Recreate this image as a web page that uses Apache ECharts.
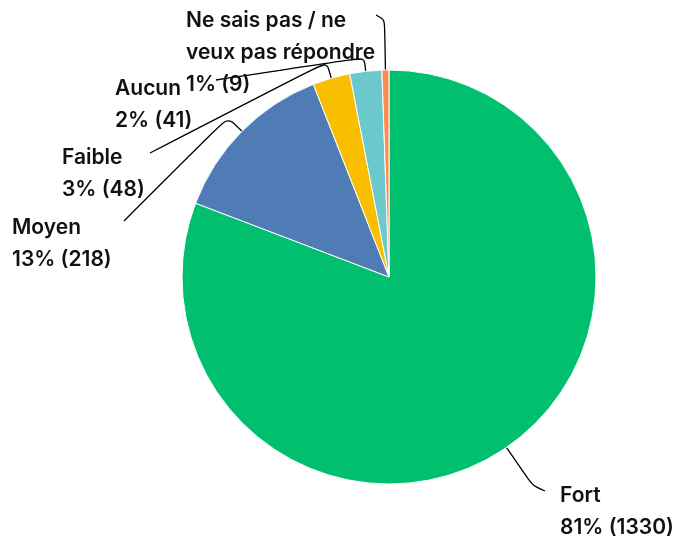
<!DOCTYPE html>
<html><head><meta charset="utf-8">
<script src="https://cdn.jsdelivr.net/npm/echarts@6/dist/echarts.min.js"></script>
<style>html,body{margin:0;padding:0;background:#fff}#c{width:679px;height:542px}</style>
</head><body><div id="c"></div>
<script>
const categories = ['Fort', 'Moyen', 'Faible', 'Aucun', 'Ne sais pas / ne veux pas répondre'];
const counts = [1330, 218, 48, 41, 9];
const colors = ['#00BF6F', '#507CB6', '#F9BE00', '#6BC8CD', '#FF8B4F'];

const chart = echarts.init(document.getElementById('c'));

// label block placement (top-left), radial leg length, end point of the guide line
const labelPlacement = [
  { x: 560, y: 480, leg: 46, end: [545, 491] },
  { x: 12, y: 212, leg: 20, end: [124, 221] },
  { x: 62, y: 142, leg: 17, end: [150, 153] },
  { x: 115, y: 73, leg: 14, end: [216, 80] },
  { x: 186, y: 5, leg: 50, end: [376, 15] }
];

const option = {
  animation: false,
  backgroundColor: '#fff',
  series: [{
    type: 'pie',
    center: [389, 277],
    radius: 207,
    startAngle: 90,
    clockwise: true,
    avoidLabelOverlap: false,
    emphasis: { disabled: true },
    itemStyle: { borderColor: '#fff', borderWidth: 1 },
    data: categories.map((n, i) => ({
      name: n, value: counts[i], itemStyle: { color: colors[i] },
      label: i === 4 ? { width: 205, overflow: 'break' } : undefined
    })),
    label: {
      show: true, position: 'outside', color: '#111',
      fontFamily: 'Inter', fontWeight: 600, fontSize: 21, lineHeight: 32,
      formatter: p => `${p.name}\n${Math.round(p.percent)}% (${p.value})`
    },
    labelLine: { show: true, smooth: 0.25, lineStyle: { color: '#000', width: 1.3 } },
    labelLayout: function (params) {
      const p = labelPlacement[params.dataIndex];
      const lay = chart.getModel().getSeriesByIndex(0).getData().getItemLayout(params.dataIndex);
      const mid = (lay.startAngle + lay.endAngle) / 2;
      const dx = Math.cos(mid), dy = Math.sin(mid);
      const p0 = [lay.cx + lay.r * dx, lay.cy + lay.r * dy];
      const p1 = [p0[0] + dx * p.leg, p0[1] + dy * p.leg];
      return {
        x: p.x, y: p.y, align: 'left', verticalAlign: 'top',
        labelLinePoints: [p0, p1, p.end]
      };
    }
  }]
};
chart.setOption(option);
</script></body></html>
